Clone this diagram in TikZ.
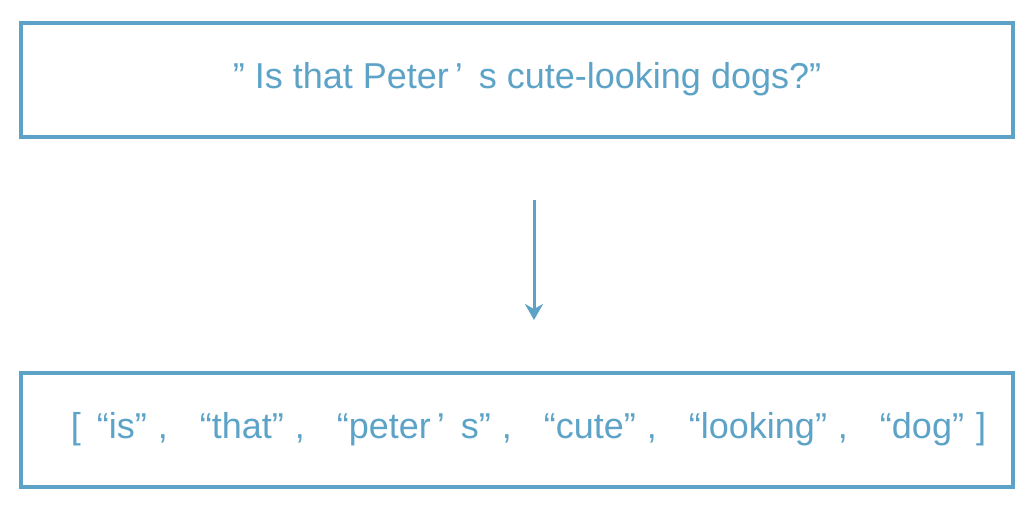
\documentclass[tikz,border=0pt]{standalone}
\usepackage{fontspec}
\setmainfont{Liberation Sans}
\usetikzlibrary{arrows.meta, positioning}
\definecolor{tokblue}{RGB}{92, 163, 199}
\newcommand{\tokgap}{\hspace{11pt},\hspace{32pt}}

\begin{document}
\begin{tikzpicture}[x=1pt, y=-1pt,
  box/.style={draw=tokblue, line width=4pt, minimum width=992pt, minimum height=114pt, inner sep=0pt},
  txt/.style={text=tokblue, font=\fontsize{36}{40}\selectfont, inner sep=0pt},
]
\useasboundingbox (0, 0) rectangle (1028, 509);

% Input sentence
\node[box] (sent) at (517, 80) {};
\node[txt] (senttxt) at (527, 79) {” Is that Peter\,’\, s cute-looking dogs?”};

% Token list
\node[box] (tokens) at (517, 430) {};
\node[txt] (tokentxt) at (528.5, 429) {[\hspace{16pt}“is”\tokgap“that”\tokgap“peter\,’\, s”\tokgap“cute”\tokgap“looking”\tokgap“dog”\hspace{12pt}]};

% Tokenize arrow
\coordinate (arrtop) at (534, 200);
\coordinate (arrbot) at (534, 320);
\draw[tokblue, line width=3pt, -{Stealth[length=16pt, width=18pt, inset=5pt]}] (arrtop) -- (arrbot);
\end{tikzpicture}
\end{document}
